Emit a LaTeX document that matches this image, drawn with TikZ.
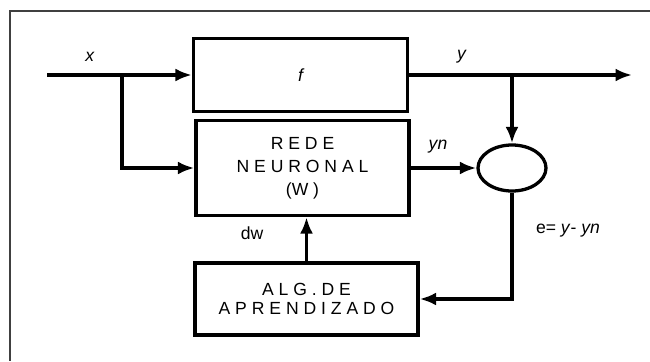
\documentclass[tikz,border=0pt]{standalone}
\usepackage{fontspec}
\setmainfont{Liberation Sans}
\usetikzlibrary{arrows.meta,shapes.geometric}

\begin{document}
\begin{tikzpicture}[x=0.03cm,y=-0.03cm,
    bloco/.style={draw,line width=2.8pt,rectangle,align=center,inner sep=0pt},
    seta/.style={line width=2.8pt,-{Latex[length=14pt,width=11pt]}},
    linha/.style={line width=2.8pt},
    rotulo/.style={font=\fontsize{15}{17}\selectfont}]
  \useasboundingbox (0,0) rectangle (650,361);
  % moldura (so topo e esquerda aparecem)
  \draw[black!75,line width=1.7pt] (650,11) -| (10,361);
  % blocos
  \node[bloco,minimum width=6.42cm,minimum height=2.19cm,
        font=\fontsize{15}{17}\selectfont\itshape] (f) at (300.5,75) {f};
  \node[bloco,minimum width=6.39cm,minimum height=2.85cm,
        font=\fontsize{15}{19.5}\selectfont] (rede) at (302.5,168)
        {R E D E\\N E U R O N A L\\(W )};
  \node[bloco,minimum width=6.69cm,minimum height=2.16cm,
        font=\fontsize{15}{16}\selectfont] (alg) at (306.5,299)
        {A L G . D E\\A P R E N D I Z A D O};
  \node[draw,ellipse,line width=2.8pt,minimum width=2.04cm,minimum height=1.38cm,
        inner sep=0pt] (soma) at (512,168) {};
  % pontos auxiliares
  \coordinate (xin) at (47,75);
  \coordinate (xbr) at (122,75);
  \coordinate (ybr) at (512,75);
  \coordinate (yout) at (632,75);
  % ligacoes
  \draw[linha] (xin) -- (xbr);
  \draw[seta] (xbr) -- (f.west);
  \draw[seta] (xbr) |- (rede.west);
  \draw[seta] (f.east) -- (yout);
  \draw[seta] (ybr) -- (soma.north);
  \draw[seta] (rede.east) -- (soma.west);
  \draw[seta] (soma.south) |- (alg.east);
  \draw[seta] (alg.north) -- (alg.north |- rede.south);
  % rotulos
  \node[rotulo] (lx) at (90,57) {\textit{x}};
  \node[rotulo] (ly) at (462,57) {\textit{y}};
  \node[rotulo] (lyn) at (438,147) {\textit{yn}};
  \node[rotulo] (le) at (568,231) {e= \textit{y}- \textit{yn}};
  \node[rotulo] (ldw) at (252,233) {dw};
\end{tikzpicture}
\end{document}
